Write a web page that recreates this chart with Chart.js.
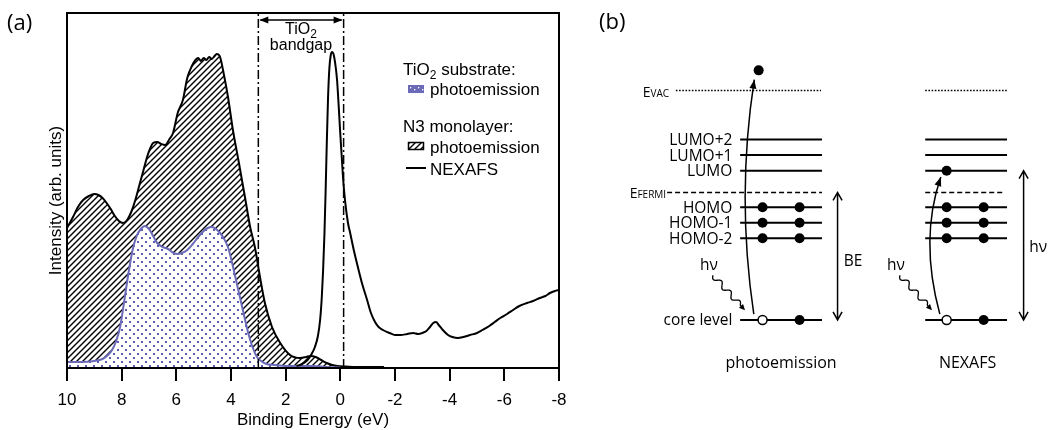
<!DOCTYPE html>
<html><head><meta charset="utf-8">
<script src="https://cdn.jsdelivr.net/npm/chart.js@4.4.1/dist/chart.umd.min.js"></script>
<style>
html,body{margin:0;padding:0;background:#fff;}
#wrap{position:relative;width:1052px;height:430px;overflow:hidden;}
#a{position:absolute;left:0;top:0;width:590px;height:430px;}
#b{position:absolute;left:590px;top:0;width:462px;height:430px;}
</style></head><body>
<div id="wrap"><div id="a"><canvas id="ca"></canvas></div><div id="b"><canvas id="cb"></canvas></div></div>
<script>
// ===== Panel (a) data (binding energy in eV, intensity in arb. units) =====
const n3Energy = [10.0,9.78,9.6,9.41,9.2,9.0,8.85,8.7,8.55,8.4,8.25,8.1,7.95,7.8,7.65,7.5,7.33,7.2,7.07,6.95,6.85,6.7,6.55,6.41,6.25,6.12,5.95,5.76,5.6,5.43,5.3,5.2,5.1,5.0,4.9,4.8,4.7,4.6,4.52,4.4,4.25,4.11,3.93,3.71,3.49,3.3,3.12,2.94,2.76,2.5,2.2,1.84,1.47,1.25,1.1,0.9,0.7,0.5,0.3,0.1,-0.2,-0.6,-1.0,-1.6];
const n3Intensity = [140,151,161,168,172,174,173,170,165,159,152,147,145,148,156,168,185,198,211,220,225,226,224,223,229,235,255,268,290,302,308,310,307,310,308,311,309,312,314,311,292,271,238,205,171,141,120,91,65,41,25,13,10,11,12,11,8,5,3,2,1.5,1,1,1];
const tio2Energy = [10.0,9.5,9.0,8.7,8.5,8.35,8.2,8.05,7.9,7.75,7.6,7.45,7.3,7.15,7.0,6.85,6.7,6.5,6.3,6.1,5.95,5.8,5.6,5.4,5.2,5.0,4.85,4.7,4.55,4.4,4.25,4.1,3.95,3.8,3.65,3.5,3.35,3.2,3.05,2.9,2.7,2.4,2.0,1.5,1.0,0.5,0.0];
const tio2Intensity = [6,6,7,9,13,18,27,42,68,95,118,132,139,142,139,132,125,121,119,115,114,115,118,124,131,137,140,141,139,135,129,120,104,86,68,50,33,20,11,7,4,3,2,2,2,1,0.5];
const nexafsEnergy = [1.6,1.4,1.2,1.05,0.93,0.82,0.74,0.68,0.63,0.58,0.54,0.5,0.45,0.4,0.35,0.3,0.25,0.19,0.12,0.06,0.01,-0.05,-0.1,-0.17,-0.28,-0.36,-0.5,-0.65,-0.8,-0.98,-1.12,-1.27,-1.4,-1.56,-1.8,-2.0,-2.2,-2.45,-2.66,-2.85,-3.0,-3.15,-3.28,-3.4,-3.5,-3.6,-3.75,-3.94,-4.1,-4.3,-4.5,-4.75,-5.0,-5.2,-5.45,-5.65,-5.85,-6.1,-6.32,-6.55,-6.83,-7.05,-7.3,-7.5,-7.67,-7.85,-8.0];
const nexafsIntensity = [2,4,8,14,21,32,48,70,98,135,175,220,270,300,313,316,314,305,288,262,238,212,190,168,145,135,117,100,84,68,55,46,41,38,35,33,33,34,35,34,35,37,41,45,46,43,38,33,31,30,31,33,35,38,42,46,50,54,58,62,65,67,70,72,75,77,78];
const bandgapEdges = [3.0, -0.12];
const xTickValues = [10,8,6,4,2,0,-2,-4,-6,-8];

// ===== Panel (b) data (schematic energy levels) =====
const levelNames = ['LUMO+2','LUMO+1','LUMO','HOMO','HOMO-1','HOMO-2','core level'];
const levelEnergies = [11.6,10.6,9.6,7.25,6.25,5.25,0];
const occupiedLevels = ['HOMO','HOMO-1','HOMO-2'];
const fermiEnergy = 8.2;
const vacuumEnergy = 14.75;
const ejectedEnergy = 16.05;
const columnNames = ['photoemission','NEXAFS'];

const BLUE = '#6a6ab8';
const F_A = '"Liberation Sans", Arial, sans-serif';
const F_B = '"Open Sans", "Noto Sans", sans-serif';

function makeHatch(){
  const c=document.createElement('canvas'); c.width=6; c.height=6;
  const g=c.getContext('2d');
  g.fillStyle='#fff'; g.fillRect(0,0,6,6);
  g.strokeStyle='#000'; g.lineWidth=1.4;
  g.beginPath();
  g.moveTo(-1,7); g.lineTo(7,-1);
  g.moveTo(-1,1); g.lineTo(1,-1);
  g.moveTo(5,7); g.lineTo(7,5);
  g.stroke();
  return g.createPattern(c,'repeat');
}
function makeDots(){
  const c=document.createElement('canvas'); c.width=8; c.height=8;
  const g=c.getContext('2d');
  g.fillStyle='#fff'; g.fillRect(0,0,8,8);
  g.fillStyle='#5c5cb0';
  g.fillRect(1,1,2,2); g.fillRect(5,5,2,2);
  return g.createPattern(c,'repeat');
}
const hatch = makeHatch();
const dots = makeDots();
const pts = (xs,ys)=>xs.map((x,i)=>({x, y:ys[i]}));

function arrowHead(ctx, tx, ty, dx, dy, len, hw){
  const L=Math.hypot(dx,dy); const ux=dx/L, uy=dy/L;
  ctx.beginPath();
  ctx.moveTo(tx,ty);
  ctx.lineTo(tx-ux*len-uy*hw, ty-uy*len+ux*hw);
  ctx.lineTo(tx-ux*len+uy*hw, ty-uy*len-ux*hw);
  ctx.closePath(); ctx.fill();
}
function subText(ctx, main, sub, x, y, size, subSize, align){
  ctx.font = size+'px '+F_A;
  const w1 = ctx.measureText(main).width;
  ctx.font = subSize+'px '+F_A;
  const w2 = ctx.measureText(sub).width;
  let x0 = align==='center' ? x-(w1+w2)/2 : x;
  ctx.textAlign='left';
  ctx.font = size+'px '+F_A; ctx.fillText(main, x0, y);
  ctx.font = subSize+'px '+F_A; ctx.fillText(sub, x0+w1, y+4);
  return x0+w1+w2;
}

const panelA = {
  id:'panelA',
  afterDraw(chart){
    const {ctx, chartArea:a, scales:{x,y}} = chart;
    ctx.save();
    ctx.strokeStyle='#000'; ctx.fillStyle='#000'; ctx.lineWidth=2;
    ctx.strokeRect(a.left, a.top, a.right-a.left, a.bottom-a.top);
    // y title
    ctx.save();
    ctx.translate(61, (a.top+a.bottom)/2+10);
    ctx.rotate(-Math.PI/2);
    ctx.font='17px '+F_A; ctx.textAlign='center'; ctx.textBaseline='alphabetic';
    ctx.fillText('Intensity (arb. units)',0,0);
    ctx.restore();
    // panel label
    ctx.font='22px '+F_B; ctx.textAlign='left'; ctx.textBaseline='middle';
    ctx.fillText('(a)', 7, 24);
    // bandgap arrow
    const x1=x.getPixelForValue(bandgapEdges[0]), x2=x.getPixelForValue(bandgapEdges[1]);
    const ya=y.getPixelForValue(348);
    ctx.lineWidth=1.5;
    ctx.beginPath(); ctx.moveTo(x1+2,ya); ctx.lineTo(x2-2,ya); ctx.stroke();
    arrowHead(ctx, x1+1, ya, -1, 0, 9, 3.5);
    arrowHead(ctx, x2-1, ya, 1, 0, 9, 3.5);
    ctx.textBaseline='alphabetic';
    const xm=(x1+x2)/2;
    subText(ctx,'TiO','2',xm,34,16,12,'center');
    ctx.font='16px '+F_A; ctx.textAlign='center';
    ctx.fillText('bandgap', xm, 50);
    // legend
    ctx.textAlign='left';
    subText(ctx,'TiO','2',403,75,17,12,'left');
    ctx.font='17px '+F_A; ctx.textAlign='left';
    const w = ctx.measureText('TiO').width; ctx.font='12px '+F_A;
    const w2 = ctx.measureText('2').width;
    ctx.font='17px '+F_A;
    ctx.fillText(' substrate:', 403+w+w2, 75);
    ctx.fillStyle=BLUE; ctx.fillRect(408,85,16,8);
    ctx.fillStyle='#fff';
    for(let i=0;i<4;i++){ctx.fillRect(410+i*4,87+(i%2)*2,1.3,1.3);}
    ctx.fillStyle='#000';
    ctx.fillText('photoemission', 430, 95);
    ctx.fillText('N3 monolayer:', 403, 132);
    ctx.fillStyle=hatch; ctx.fillRect(408,142,16,8);
    ctx.strokeStyle='#000'; ctx.lineWidth=1.5; ctx.strokeRect(408.5,142.5,15,7);
    ctx.fillStyle='#000';
    ctx.fillText('photoemission', 430, 153);
    ctx.lineWidth=2; ctx.beginPath(); ctx.moveTo(406,168); ctx.lineTo(426,168); ctx.stroke();
    ctx.fillText('NEXAFS', 430, 175);
    ctx.restore();
  }
};

new Chart(document.getElementById('ca'), {
  type:'line',
  data:{datasets:[
    {label:'N3 photoemission', data:pts(n3Energy,n3Intensity), borderColor:'#000', borderWidth:2, backgroundColor:hatch, fill:'origin', pointRadius:0, cubicInterpolationMode:'monotone', order:4},
    {label:'TiO2 photoemission', data:pts(tio2Energy,tio2Intensity), borderColor:BLUE, borderWidth:2, backgroundColor:dots, fill:'origin', pointRadius:0, cubicInterpolationMode:'monotone', order:3},
    {label:'N3 NEXAFS', data:pts(nexafsEnergy,nexafsIntensity), borderColor:'#000', borderWidth:2, fill:false, pointRadius:0, cubicInterpolationMode:'monotone', order:2},
    {label:'VBM', data:[{x:bandgapEdges[0],y:0},{x:bandgapEdges[0],y:355}], borderColor:'#000', borderWidth:1.5, borderDash:[9,3,2,3], pointRadius:0, fill:false, order:1},
    {label:'CBM', data:[{x:bandgapEdges[1],y:0},{x:bandgapEdges[1],y:355}], borderColor:'#000', borderWidth:1.5, borderDash:[9,3,2,3], pointRadius:0, fill:false, order:1}
  ]},
  options:{
    responsive:true, maintainAspectRatio:false, animation:false,
    layout:{padding:{top:13,right:31,left:0,bottom:0}},
    plugins:{legend:{display:false}, tooltip:{enabled:false}},
    scales:{
      x:{type:'linear', min:-8, max:10, reverse:true,
        afterBuildTicks(s){ s.ticks = xTickValues.map(v=>({value:v})); },
        ticks:{color:'#000', font:{family:F_A, size:17}, padding:9, autoSkip:false, maxRotation:0},
        grid:{drawOnChartArea:false, drawTicks:true, tickLength:13, color:'#000', lineWidth:2},
        border:{display:true, color:'#000', width:2},
        title:{display:true, text:'Binding Energy (eV)', color:'#000', font:{family:F_A, size:17}, padding:{top:0,bottom:-1}},
        afterFit(s){ s.height=62; }},
      y:{type:'linear', min:0, max:355, ticks:{display:false}, grid:{display:false},
        border:{display:true, color:'#000', width:2},
        afterFit(s){ s.width=67; }}
    }
  },
  plugins:[panelA]
});

// ===== Panel (b) =====
const col = [
  {lineStart:14.8, lineEnd:23.2, vacStart:8.2, fermiStart:7.3, e1:17.1, e2:20.9},
  {lineStart:33.8, lineEnd:42.2, vacStart:33.8, fermiStart:33.8, e1:36.0, e2:39.8}
];
function segs(list){ const d=[]; list.forEach(s=>{d.push({x:s[0],y:s[2]},{x:s[1],y:s[2]},{x:s[1],y:null});}); return d; }
const solidSegs=[], fermiSegs=[], vacSegs=[], filled=[], holes=[];
col.forEach((c,ci)=>{
  levelEnergies.forEach(E=>solidSegs.push([c.lineStart,c.lineEnd,E]));
  fermiSegs.push([c.fermiStart, ci===0?23.2:42.0, fermiEnergy]);
  vacSegs.push([c.vacStart, ci===0?23.1:42.3, vacuumEnergy]);
  occupiedLevels.forEach(n=>{const E=levelEnergies[levelNames.indexOf(n)]; filled.push({x:c.e1,y:E},{x:c.e2,y:E});});
  const core=levelEnergies[levelNames.indexOf('core level')];
  holes.push({x:c.e1,y:core}); filled.push({x:c.e2,y:core});
});
filled.push({x:16.7,y:ejectedEnergy});
filled.push({x:col[1].e1,y:levelEnergies[levelNames.indexOf('LUMO')]});

function wavy(ctx,x0,y0,x1,y1,amp,periods){
  const dx=x1-x0, dy=y1-y0, L=Math.hypot(dx,dy), ux=dx/L, uy=dy/L, nx=-uy, ny=ux;
  const wl=L-7;
  ctx.beginPath();
  for(let i=0;i<=120;i++){const s=i/120*wl; const o=amp*Math.sin(2*Math.PI*periods*s/wl); const px=x0+ux*s+nx*o, py=y0+uy*s+ny*o; if(i===0)ctx.moveTo(px,py); else ctx.lineTo(px,py);}
  ctx.lineTo(x1-ux*4,y1-uy*4); ctx.stroke();
  arrowHead(ctx,x1,y1,ux,uy,6,2.8);
}
function curved(ctx,sx,sy,cx,cy,ex,ey){
  ctx.beginPath(); ctx.moveTo(sx,sy); ctx.quadraticCurveTo(cx,cy,ex,ey); ctx.stroke();
  arrowHead(ctx,ex,ey,ex-cx,ey-cy,9,3.5);
}
function vArrow(ctx,x,yTop,yBot){
  ctx.beginPath(); ctx.moveTo(x,yTop); ctx.lineTo(x,yBot);
  ctx.moveTo(x-4.5,yTop+8); ctx.lineTo(x,yTop); ctx.lineTo(x+4.5,yTop+8);
  ctx.moveTo(x-4.5,yBot-8); ctx.lineTo(x,yBot); ctx.lineTo(x+4.5,yBot-8);
  ctx.stroke();
}
function smallCaps(ctx,big,small,xRight,yBase){
  ctx.font='14px '+F_B; const w1=ctx.measureText(big).width;
  ctx.font='10px '+F_B; const w2=ctx.measureText(small).width;
  ctx.textAlign='left';
  ctx.font='14px '+F_B; ctx.fillText(big,xRight-w1-w2,yBase);
  ctx.font='10px '+F_B; ctx.fillText(small,xRight-w2,yBase);
}

const panelB = {
  id:'panelB',
  afterDatasetsDraw(chart){
    const {ctx, scales:{x,y}} = chart;
    const X=v=>x.getPixelForValue(v), Y=v=>y.getPixelForValue(v);
    ctx.save();
    ctx.fillStyle='#000'; ctx.strokeStyle='#000';
    ctx.font='22px '+F_B; ctx.textAlign='left'; ctx.textBaseline='middle';
    ctx.fillText('(b)', 9, 23);
    ctx.font='15.5px '+F_B; ctx.textAlign='right'; ctx.textBaseline='middle';
    levelNames.forEach((n,i)=>ctx.fillText(n, X(14.0), Y(levelEnergies[i])+1));
    ctx.textBaseline='alphabetic';
    smallCaps(ctx,'E','VAC',X(7.5),Y(vacuumEnergy)+6);
    smallCaps(ctx,'E','FERMI',X(7.2),Y(fermiEnergy)+6);
    ctx.font='16px '+F_B; ctx.textAlign='center';
    ctx.fillText(columnNames[0], X(19.0), Y(-3.06));
    ctx.fillText(columnNames[1], X(38.15), Y(-3.06));
    ctx.font='15.5px '+F_B;
    ctx.fillText('hν', X(11.6), Y(3.19));
    ctx.fillText('hν', X(30.8), Y(3.19));
    ctx.fillText('BE', X(26.4), Y(3.5));
    ctx.fillText('hν', X(45.4), Y(4.4));
    ctx.lineWidth=1.5;
    curved(ctx, X(16.2),Y(0.375), X(14.4),Y(7.94), X(16.25),Y(15.45));
    curved(ctx, X(35.3),Y(0.375), X(33.2),Y(5.19), X(35.4),Y(9.19));
    ctx.lineWidth=1.3;
    wavy(ctx, X(12.0),Y(2.875), X(15.3),Y(0.625), 2.6, 3);
    wavy(ctx, X(31.2),Y(2.875), X(34.5),Y(0.625), 2.6, 3);
    ctx.lineWidth=1.5;
    vArrow(ctx, X(24.8), Y(fermiEnergy), Y(0));
    vArrow(ctx, X(43.9), Y(levelEnergies[levelNames.indexOf('LUMO')]), Y(0));
    ctx.restore();
  }
};

new Chart(document.getElementById('cb'), {
  type:'scatter',
  data:{datasets:[
    {type:'line', label:'levels', data:segs(solidSegs), borderColor:'#000', borderWidth:2, pointRadius:0, fill:false, order:5},
    {type:'line', label:'Fermi', data:segs(fermiSegs), borderColor:'#000', borderWidth:1.5, borderDash:[5,3], pointRadius:0, fill:false, order:5},
    {type:'line', label:'vacuum', data:segs(vacSegs), borderColor:'#000', borderWidth:1.5, borderDash:[1.6,1.6], pointRadius:0, fill:false, order:5},
    {label:'electrons', data:filled, pointRadius:5, pointBackgroundColor:'#000', pointBorderWidth:0, order:1},
    {label:'holes', data:holes, pointRadius:4.5, pointBackgroundColor:'#fff', pointBorderColor:'#000', pointBorderWidth:1.5, order:1}
  ]},
  options:{
    responsive:true, maintainAspectRatio:false, animation:false,
    layout:{padding:0},
    plugins:{legend:{display:false}, tooltip:{enabled:false}},
    scales:{x:{type:'linear', display:false, min:0, max:46.2}, y:{type:'linear', display:false, min:-6.6875, max:20.1875}}
  },
  plugins:[panelB]
});
</script>
</body></html>
